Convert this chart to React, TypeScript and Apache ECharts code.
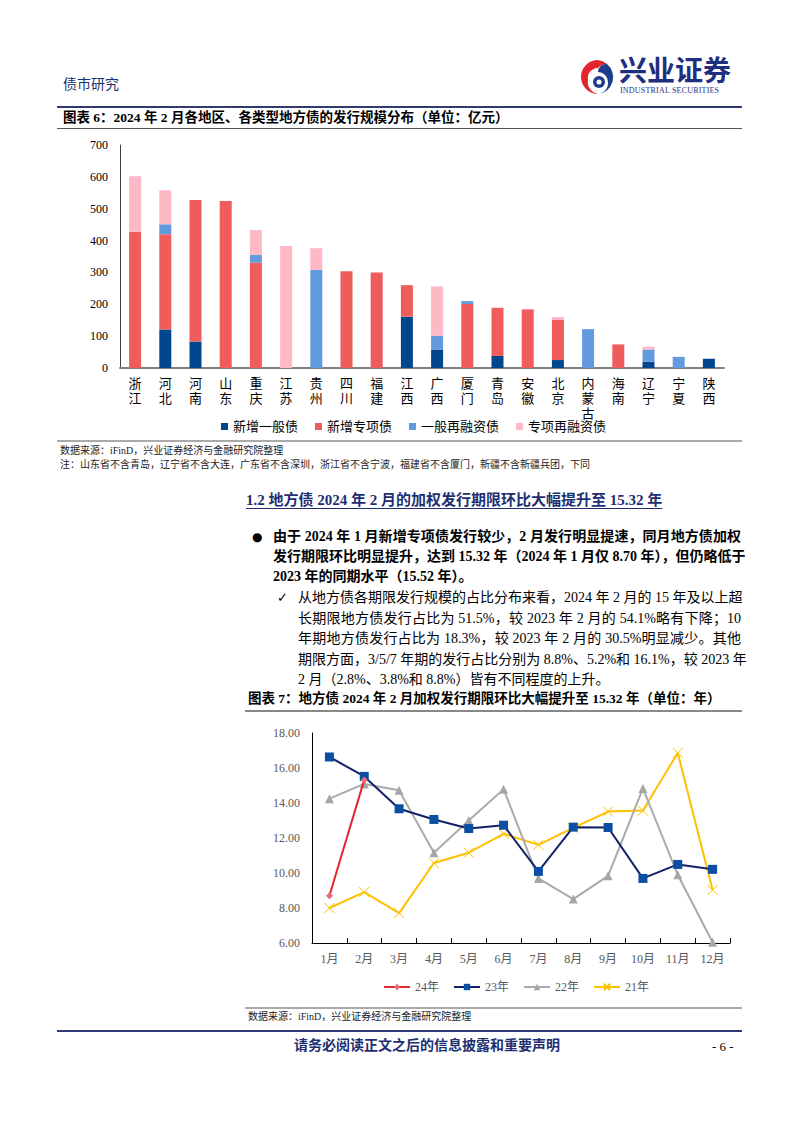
import React, { useEffect, useRef } from "react";
import * as echarts from "echarts";

const regions = ["浙江", "河北", "河南", "山东", "重庆", "江苏", "贵州", "四川", "福建", "江西", "广西", "厦门", "青岛", "安徽", "北京", "内蒙古", "海南", "辽宁", "宁夏", "陕西"];
const newGeneral = [0, 121, 83, 0, 0, 0, 0, 0, 0, 161, 58, 0, 38, 0, 25, 0, 0, 20, 0, 29];
const newSpecial = [428, 299, 444, 524, 331, 0, 0, 304, 300, 99, 0, 201, 151, 184, 127, 0, 74, 0, 0, 0];
const refiGeneral = [0, 31, 0, 0, 24, 0, 308, 0, 0, 0, 43, 9, 0, 0, 0, 122, 0, 38, 35, 0];
const refiSpecial = [174, 107, 0, 0, 78, 383, 68, 0, 0, 0, 155, 0, 0, 0, 8, 0, 0, 9, 0, 0];
const barSeriesNames = ["新增一般债", "新增专项债", "一般再融资债", "专项再融资债"];
const barYTicks = { min: 0, max: 700, interval: 100 };

const months = ["1月", "2月", "3月", "4月", "5月", "6月", "7月", "8月", "9月", "10月", "11月", "12月"];
const y24 = [8.7, 15.32];
const y23 = [16.63, 15.52, 13.67, 13.06, 12.54, 12.73, 10.09, 12.62, 12.6, 9.69, 10.49, 10.21];
const y22 = [14.25, 15.09, 14.73, 11.16, 13.0, 14.79, 9.69, 8.51, 9.84, 14.83, 9.9, 6.04];
const y21 = [8.0, 8.91, 7.71, 10.57, 11.16, 12.24, 11.61, 12.58, 13.51, 13.57, 16.86, 9.03];
const lineSeriesNames = ["24年", "23年", "22年", "21年"];
const lineYTicks = { min: 6, max: 18, interval: 2 };

const FONT = "'Liberation Serif', 'Noto Sans CJK SC', serif";
const NAVY = "#1d2f72";

function BarChart() {
  const ref = useRef<HTMLDivElement>(null);
  useEffect(() => {
    const chart = echarts.init(ref.current!, null, { renderer: "svg" });
    const colors = ["#00468c", "#ee5c5c", "#619ade", "#ffb8c6"];
    const datas = [newGeneral, newSpecial, refiGeneral, refiSpecial];
    chart.setOption({
      animation: false,
      textStyle: { fontFamily: FONT },
      legend: {
        data: barSeriesNames,
        left: 216,
        top: 280,
        icon: "rect",
        itemWidth: 7,
        itemHeight: 7,
        itemGap: 17,
        textStyle: { fontSize: 13, color: "#000", fontFamily: FONT },
      },
      grid: { left: 120, right: 78, top: 10, height: 223 },
      xAxis: {
        type: "category",
        data: regions,
        axisLine: { lineStyle: { color: "#808080", width: 2 } },
        axisTick: { show: false },
        axisLabel: {
          interval: 0,
          margin: 8,
          fontSize: 13,
          lineHeight: 15,
          color: "#000",
          formatter: (v: string) => v.split("").join("\n"),
        },
      },
      yAxis: {
        type: "value",
        ...barYTicks,
        splitLine: { show: false },
        axisLine: { show: true, lineStyle: { color: "#404040", width: 1 } },
        axisTick: { show: false },
        axisLabel: { fontSize: 12, color: "#000", margin: 12 },
      },
      series: datas.map((d, i) => ({
        name: barSeriesNames[i],
        type: "bar",
        stack: "total",
        barWidth: 12,
        data: d,
        itemStyle: { color: colors[i] },
      })),
    });
    return () => chart.dispose();
  }, []);
  return <div ref={ref} style={{ position: "absolute", left: 0, top: 135, width: 802, height: 305 }} />;
}

function LineChart() {
  const ref = useRef<HTMLDivElement>(null);
  useEffect(() => {
    const chart = echarts.init(ref.current!, null, { renderer: "svg" });
    const xPath = "path://M0,0 L10,10 M10,0 L0,10";
    chart.setOption({
      animation: false,
      textStyle: { fontFamily: FONT },
      legend: {
        data: lineSeriesNames,
        left: 378,
        top: 256,
        itemWidth: 26,
        itemHeight: 8,
        itemGap: 14,
        textStyle: { fontSize: 12, color: "#595959", fontFamily: FONT },
      },
      grid: { left: 312, right: 72, top: 13, height: 210 },
      xAxis: {
        type: "category",
        data: months,
        boundaryGap: true,
        axisLine: { lineStyle: { color: "#000", width: 1 } },
        axisTick: { show: true, inside: true, length: 5, lineStyle: { color: "#000" } },
        axisLabel: { interval: 0, fontSize: 12, color: "#595959", margin: 10 },
      },
      yAxis: {
        type: "value",
        ...lineYTicks,
        splitLine: { show: false },
        axisLine: { show: true, lineStyle: { color: "#000", width: 1 } },
        axisTick: { show: false },
        axisLabel: { fontSize: 12, color: "#595959", margin: 12, formatter: (v: number) => v.toFixed(2) },
      },
      series: [
        {
          name: "24年",
          type: "line",
          data: y24,
          symbol: "diamond",
          symbolSize: 7,
          lineStyle: { color: "#e0262e", width: 2 },
          itemStyle: { color: "#e86a7c" },
          z: 5,
        },
        {
          name: "23年",
          type: "line",
          data: y23,
          symbol: "rect",
          symbolSize: 9,
          lineStyle: { color: "#13216a", width: 2 },
          itemStyle: { color: "#0b4ea2" },
          z: 4,
        },
        {
          name: "22年",
          type: "line",
          data: y22,
          symbol: "triangle",
          symbolSize: 9,
          lineStyle: { color: "#aaaaaa", width: 2 },
          itemStyle: { color: "#a6a6a6" },
          z: 3,
        },
        {
          name: "21年",
          type: "line",
          data: y21,
          symbol: xPath,
          symbolSize: 10,
          lineStyle: { color: "#ffc000", width: 2 },
          itemStyle: { color: "#ffc000", borderColor: "#ffc000", borderWidth: 1 },
          z: 2,
        },
      ],
    });
    return () => chart.dispose();
  }, []);
  return <div ref={ref} style={{ position: "absolute", left: 0, top: 720, width: 802, height: 285 }} />;
}

function Line(props: { text: string; left: number; cy: number; width?: number; size?: number; bold?: boolean; justify?: boolean; color?: string }) {
  const { text, left, cy, width, size = 14, bold, justify, color = "#000" } = props;
  const lh = size + 6;
  return (
    <div
      style={{
        position: "absolute",
        left,
        top: cy - lh / 2,
        width: width,
        height: lh,
        lineHeight: `${lh}px`,
        fontSize: size,
        fontWeight: bold ? "bold" : "normal",
        color,
        whiteSpace: "nowrap",
        textAlign: justify ? "justify" : "left",
        textAlignLast: justify ? "justify" : "left",
        fontFamily: FONT,
      }}
    >
      {text}
    </div>
  );
}

function HLine(props: { left: number; right: number; y: number; color: string; h?: number }) {
  const { left, right, y, color, h = 1 } = props;
  return <div style={{ position: "absolute", left, top: y - h / 2, width: right - left, height: h, background: color }} />;
}

function Logo() {
  return (
    <svg style={{ position: "absolute", left: 580, top: 58 }} width={36} height={38} viewBox="0 0 36 38">
      <path d="M18,2 A17,17 0 1 0 18,36 A12,12 0 0 1 8,22 A10,10 0 0 1 18,10 A13,13 0 0 1 27,6 A17,17 0 0 0 18,2 Z" fill="#e3262e" />
      <path d="M27,6 A17,17 0 0 1 18,36 A11,11 0 0 0 28,24 A10,10 0 0 0 18,14 A8,8 0 0 1 27,6 Z" fill="#1f3c8c" />
      <circle cx="19" cy="24" r="6" fill="#1f3c8c" />
      <circle cx="19" cy="24" r="2.5" fill="#fff" />
    </svg>
  );
}

const bulletLines = [
  "由于 2024 年 1 月新增专项债发行较少，2 月发行明显提速，同月地方债加权",
  "发行期限环比明显提升，达到 15.32 年（2024 年 1 月仅 8.70 年），但仍略低于",
  "2023 年的同期水平（15.52 年）。",
];
const checkLines = [
  "从地方债各期限发行规模的占比分布来看，2024 年 2 月的 15 年及以上超",
  "长期限地方债发行占比为 51.5%，较 2023 年 2 月的 54.1%略有下降；10",
  "年期地方债发行占比为 18.3%，较 2023 年 2 月的 30.5%明显减少。其他",
  "期限方面，3/5/7 年期的发行占比分别为 8.8%、5.2%和 16.1%，较 2023 年",
  "2 月（2.8%、3.8%和 8.8%）皆有不同程度的上升。",
];

export default function App() {
  return (
    <div style={{ position: "absolute", left: 0, top: 0, width: 802, height: 1133, background: "#fff", overflow: "hidden" }}>
      <Line text="债市研究" left={63} cy={85} size={14} color={NAVY} />
      <Logo />
      <Line text="兴业证券" left={619} cy={72} size={28} bold color="#1f2f7f" />
      <div style={{ position: "absolute", left: 620, top: 86, width: 118, fontSize: 8, fontFamily: FONT, color: "#1f2f7f", letterSpacing: 0.2, whiteSpace: "nowrap" }}>INDUSTRIAL SECURITIES</div>
      <HLine left={57} right={742} y={107} color="#2f3a6e" h={1.5} />
      <Line text="图表 6：2024 年 2 月各地区、各类型地方债的发行规模分布（单位：亿元）" left={63} cy={118} size={13.5} bold />
      <HLine left={57} right={742} y={128} color="#555" h={1} />
      <BarChart />
      <HLine left={57} right={742} y={441} color="#aaa" h={1.5} />
      <Line text="数据来源：iFinD，兴业证券经济与金融研究院整理" left={60} cy={451} size={10} color="#222" />
      <Line text="注：山东省不含青岛，辽宁省不含大连，广东省不含深圳，浙江省不含宁波，福建省不含厦门，新疆不含新疆兵团，下同" left={60} cy={465} size={10} color="#222" />
      <div style={{ position: "absolute", left: 246, top: 490, fontSize: 15, fontWeight: "bold", color: NAVY, fontFamily: FONT, whiteSpace: "nowrap", lineHeight: "20px", textDecoration: "underline", textUnderlineOffset: 3 }}>
        1.2 地方债 2024 年 2 月的加权发行期限环比大幅提升至 15.32 年
      </div>
      <div style={{ position: "absolute", left: 252, top: 529, fontSize: 12, lineHeight: "16px", fontFamily: "'DejaVu Sans'" }}>●</div>
      {bulletLines.map((t, i) => (
        <Line key={"b" + i} text={t} left={273} cy={537 + i * 20} width={468} size={14} bold justify={i < bulletLines.length - 1} />
      ))}
      <div style={{ position: "absolute", left: 277, top: 590, fontSize: 13, lineHeight: "16px", fontFamily: "'DejaVu Sans'" }}>✓</div>
      {checkLines.map((t, i) => (
        <Line key={"c" + i} text={t} left={298} cy={598 + i * 20.5} width={443} size={14} justify={i < checkLines.length - 1} />
      ))}
      <Line text="图表 7：地方债 2024 年 2 月加权发行期限环比大幅提升至 15.32 年（单位：年）" left={248} cy={699} size={13.5} bold />
      <HLine left={245} right={742} y={711} color="#888" h={1.5} />
      <LineChart />
      <HLine left={245} right={742} y={1008} color="#aaa" h={1.5} />
      <Line text="数据来源：iFinD，兴业证券经济与金融研究院整理" left={248} cy={1017} size={10} color="#222" />
      <HLine left={57} right={742} y={1031} color="#2f3a7a" h={2} />
      <Line text="请务必阅读正文之后的信息披露和重要声明" left={294} cy={1046} size={14} bold color="#1d2f72" />
      <Line text="- 6 -" left={712} cy={1046} size={13} color="#000" />
    </div>
  );
}
